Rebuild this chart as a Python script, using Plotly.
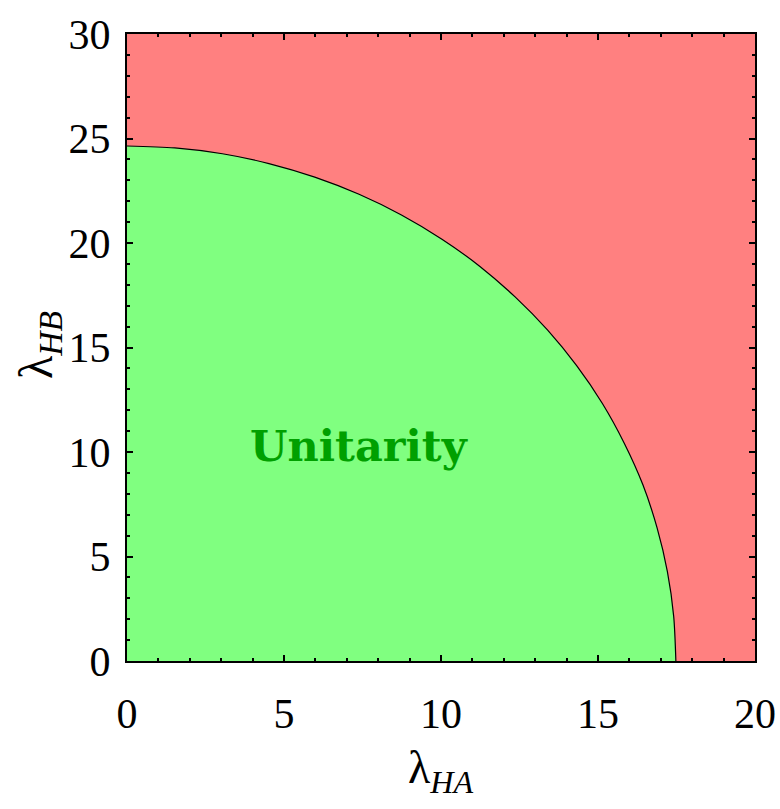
import plotly.graph_objects as go

# Boundary of the unitarity region
lam_HA = [0.0, 1.52, 3.04, 4.52, 5.98, 7.39, 8.74, 10.03, 11.24, 12.36,
          13.39, 14.32, 15.14, 15.84, 16.43, 16.88, 17.21, 17.41, 17.48]
lam_HB = [24.64, 24.55, 24.27, 23.80, 23.15, 22.33, 21.34, 20.18, 18.88, 17.42,
          15.84, 14.13, 12.32, 10.41, 8.43, 6.38, 4.28, 2.15, 0.0]

x_ticks = [0, 5, 10, 15, 20]
y_ticks = [0, 5, 10, 15, 20, 25, 30]
region_label = "Unitarity"

RED = "#FF8080"
GREEN = "#80FF80"
FONT = "Liberation Serif"

fig = go.Figure()

# boundary curve, filled down to the λ_HA axis
fig.add_trace(go.Scatter(
    x=lam_HA, y=lam_HB, mode="lines",
    fill="tozeroy", fillcolor=GREEN,
    line=dict(color="black", width=1.2, shape="spline", smoothing=0.8),
    hoverinfo="skip", showlegend=False,
))

fig.add_annotation(
    x=7.4, y=10.3, text="<b>" + region_label + "</b>", showarrow=False,
    font=dict(family="DejaVu Serif", size=43, color="#00A000"),
)

# axis titles
fig.add_annotation(
    xref="paper", yref="paper", x=0.5, y=-0.175, xanchor="center", yanchor="middle",
    text="λ<sub><i>HA</i></sub>", showarrow=False,
    font=dict(family=FONT, size=46, color="black"),
)
fig.add_annotation(
    xref="paper", yref="paper", x=-0.14, y=0.504, xanchor="center", yanchor="middle",
    text="λ<sub><i>HB</i></sub>", showarrow=False, textangle=-90,
    font=dict(family=FONT, size=48, color="black"),
)

axis_common = dict(
    showgrid=False, zeroline=False, automargin=False,
    showline=True, linecolor="black", linewidth=2, mirror="allticks",
    ticks="inside", ticklen=6, tickwidth=2, tickcolor="black",
    tickfont=dict(family=FONT, size=42, color="black"),
)

fig.update_xaxes(
    range=[0, 20], tickvals=x_ticks, ticktext=[str(v) for v in x_ticks],
    minor=dict(dtick=1, ticks="inside", ticklen=3, tickwidth=1.5, tickcolor="black", showgrid=False),
    ticklabelstandoff=15,
    **axis_common,
)
fig.update_yaxes(
    range=[0, 30], tickvals=y_ticks, ticktext=[str(v) for v in y_ticks],
    minor=dict(dtick=1, ticks="inside", ticklen=3, tickwidth=1.5, tickcolor="black", showgrid=False),
    ticklabelstandoff=6,
    **axis_common,
)

fig.update_layout(
    width=780, height=809,
    margin=dict(l=127, r=25, t=34, b=148, autoexpand=False),
    plot_bgcolor=RED, paper_bgcolor="white",
    showlegend=False,
)

# remove the page's default body margin so the figure fills the window exactly
fig.write_html(
    "out.html",
    config={"displayModeBar": False},
    post_script="document.body.style.margin='0';document.body.style.overflow='hidden';",
)
